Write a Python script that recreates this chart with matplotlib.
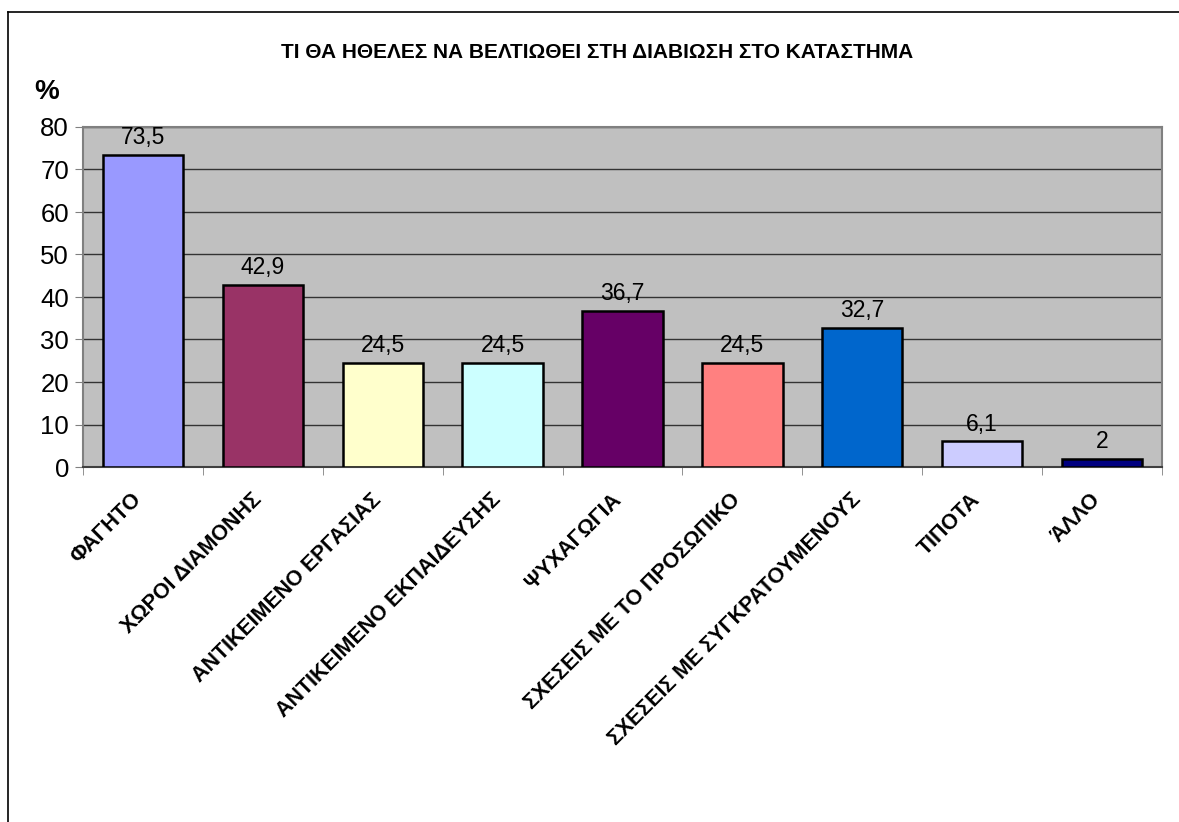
import matplotlib.pyplot as plt
from matplotlib.lines import Line2D
from matplotlib.transforms import ScaledTranslation

plt.rcParams['font.family'] = ['Liberation Sans', 'DejaVu Sans']

# data
categories = ['ΦΑΓΗΤΟ', 'ΧΩΡΟΙ ΔΙΑΜΟΝΗΣ', 'ΑΝΤΙΚΕΙΜΕΝΟ ΕΡΓΑΣΙΑΣ',
              'ΑΝΤΙΚΕΙΜΕΝΟ ΕΚΠΑΙΔΕΥΣΗΣ', 'ΨΥΧΑΓΩΓΙΑ', 'ΣΧΕΣΕΙΣ ΜΕ ΤΟ ΠΡΟΣΩΠΙΚΟ',
              'ΣΧΕΣΕΙΣ ΜΕ ΣΥΓΚΡΑΤΟΥΜΕΝΟΥΣ', 'ΤΙΠΟΤΑ', 'ΆΛΛΟ']
values = [73.5, 42.9, 24.5, 24.5, 36.7, 24.5, 32.7, 6.1, 2]
value_labels = ['73,5', '42,9', '24,5', '24,5', '36,7', '24,5', '32,7', '6,1', '2']
bar_colors = ['#9999FF', '#993366', '#FFFFCC', '#CCFFFF', '#660066',
              '#FF8080', '#0066CC', '#CCCCFF', '#000080']
yticks = [0, 10, 20, 30, 40, 50, 60, 70, 80]

fig = plt.figure(figsize=(11.79, 8.22), dpi=100)
ax = fig.add_axes([83 / 1179, 1 - 467 / 822, (1162 - 83) / 1179, (467 - 127) / 822])

# chart area frame (cut off at right and bottom)
fig.add_artist(Line2D([8 / 1179, 1], [1 - 12 / 822, 1 - 12 / 822],
                      transform=fig.transFigure, color='black', lw=1.2))
fig.add_artist(Line2D([8 / 1179, 8 / 1179], [1 - 12 / 822, 0],
                      transform=fig.transFigure, color='black', lw=1.2))

ax.set_facecolor('#C0C0C0')
x = list(range(len(categories)))
ax.bar(x, values, width=0.67, color=bar_colors, edgecolor='black', linewidth=1.8, zorder=3)

for xi, v, lab in zip(x, values, value_labels):
    ax.annotate(lab, (xi, v), xytext=(0, 4), textcoords='offset points',
                ha='center', va='bottom', fontsize=16.5, zorder=4)

ax.set_xlim(-0.5, len(categories) - 0.5)
ax.set_ylim(0, 80)
ax.set_yticks(yticks)
ax.yaxis.grid(True, color='#333333', linewidth=1.0, zorder=1)
ax.set_axisbelow(True)
ax.tick_params(axis='y', labelsize=18.5, length=6, color='#808080', pad=4)

ax.set_xticks(x)
ax.set_xticklabels(categories, rotation=45, ha='right', rotation_mode='anchor',
                   fontsize=15.5, fontweight='bold')
ax.set_xticks([i - 0.5 for i in range(len(categories) + 1)], minor=True)
ax.tick_params(axis='x', which='major', length=0, pad=16)
ax.tick_params(axis='x', which='minor', length=6, color='#808080')
shift = ScaledTranslation(-12 / 100, 0, fig.dpi_scale_trans)
for lbl in ax.get_xticklabels():
    lbl.set_transform(lbl.get_transform() + shift)

for side in ['top', 'right', 'left']:
    ax.spines[side].set_color('#808080')
    ax.spines[side].set_linewidth(1.5)
ax.spines['bottom'].set_color('#404040')
ax.spines['bottom'].set_linewidth(1.5)

fig.text(597 / 1179, 1 - 52 / 822, 'ΤΙ ΘΑ ΗΘΕΛΕΣ ΝΑ ΒΕΛΤΙΩΘΕΙ ΣΤΗ ΔΙΑΒΙΩΣΗ ΣΤΟ ΚΑΤΑΣΤΗΜΑ',
         ha='center', va='center', fontsize=15, fontweight='bold')
fig.text(47 / 1179, 1 - 92 / 822, '%', ha='center', va='center', fontsize=20, fontweight='bold')

fig.savefig('out.png', dpi=100)
